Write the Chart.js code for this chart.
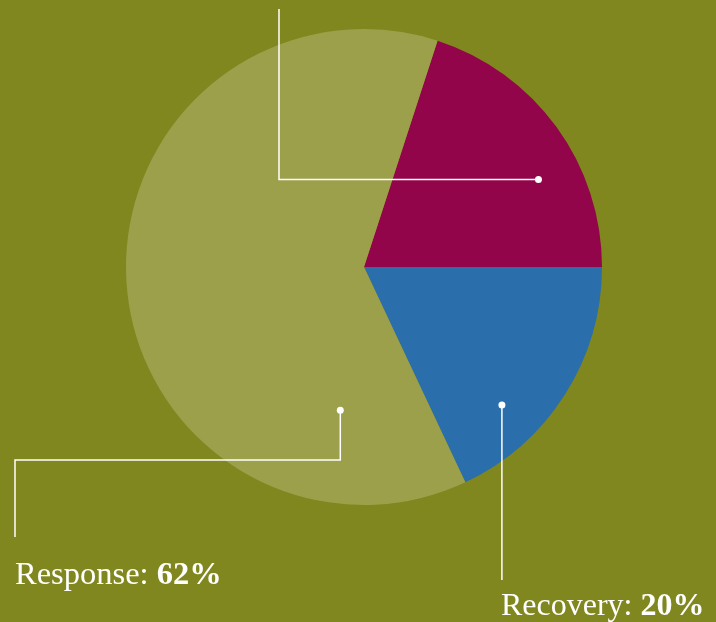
<!DOCTYPE html>
<html>
<head>
<meta charset="utf-8">
<script src="https://cdn.jsdelivr.net/npm/chart.js@4"></script>
<style>
  html, body { margin: 0; padding: 0; background: #80871f; }
  #wrap { width: 716px; height: 622px; position: relative; }
</style>
</head>
<body>
<div id="wrap"><canvas id="c" width="716" height="622"></canvas></div>
<script>
// Data
const categories = ["Preparedness", "Recovery", "Response"];
const values = [20, 18, 62];
const labelNames = ["", "Recovery: ", "Response: "];
const labelValues = ["", "20%", "62%"];
const colors = ["#93054a", "#2a6eab", "#9ca04b"];

const LINE = "#ffffff";

// Leader-line anchor inside each slice: fraction along the slice's angle, fraction of radius
const anchors = [
  { af: 0.63, rf: 0.82 },
  { af: 0.695, rf: 0.82 },
  { af: 0.155, rf: 0.61 }
];

function polar(arc, af, rf) {
  const a = arc.startAngle + (arc.endAngle - arc.startAngle) * af;
  const r = arc.outerRadius * rf;
  return { x: arc.x + Math.cos(a) * r, y: arc.y + Math.sin(a) * r };
}

const calloutPlugin = {
  id: 'callouts',
  afterDraw(chart) {
    const ctx = chart.ctx;
    const arcs = chart.getDatasetMeta(0).data;
    ctx.save();
    ctx.strokeStyle = LINE;
    ctx.fillStyle = LINE;
    ctx.lineWidth = 1.5;

    const pts = arcs.map((arc, i) => polar(arc, anchors[i].af, anchors[i].rf));

    // slice 0: left then up (label off the top edge)
    let p = pts[0];
    ctx.beginPath();
    ctx.moveTo(p.x, p.y);
    ctx.lineTo(279, p.y);
    ctx.lineTo(279, 9);
    ctx.stroke();

    // slice 1: straight down
    p = pts[1];
    ctx.beginPath();
    ctx.moveTo(p.x, p.y);
    ctx.lineTo(p.x, 580);
    ctx.stroke();

    // slice 2: down, left, down
    p = pts[2];
    ctx.beginPath();
    ctx.moveTo(p.x, p.y);
    ctx.lineTo(p.x, 460);
    ctx.lineTo(15, 460);
    ctx.lineTo(15, 537);
    ctx.stroke();

    pts.forEach(q => {
      ctx.beginPath();
      ctx.arc(q.x, q.y, 3.5, 0, Math.PI * 2);
      ctx.fill();
    });

    // labels
    ctx.textBaseline = 'alphabetic';
    ctx.textAlign = 'left';
    function label(i, x, y, size) {
      ctx.font = size + 'px "Liberation Serif", serif';
      ctx.fillText(labelNames[i], x, y);
      const w = ctx.measureText(labelNames[i]).width;
      ctx.font = 'bold ' + size + 'px "Liberation Serif", serif';
      ctx.fillText(labelValues[i], x + w, y);
    }
    label(2, 15, 584, 32.5);
    label(1, 501, 615, 32);
    ctx.restore();
  }
};

new Chart(document.getElementById('c'), {
  type: 'pie',
  data: {
    labels: categories,
    datasets: [{
      data: values,
      backgroundColor: colors,
      borderWidth: 0
    }]
  },
  options: {
    responsive: false,
    animation: false,
    rotation: 18,
    layout: { padding: { left: 12, right: 0, top: 29, bottom: 117 } },
    plugins: {
      legend: { display: false },
      tooltip: { enabled: false }
    }
  },
  plugins: [calloutPlugin]
});
</script>
</body>
</html>
